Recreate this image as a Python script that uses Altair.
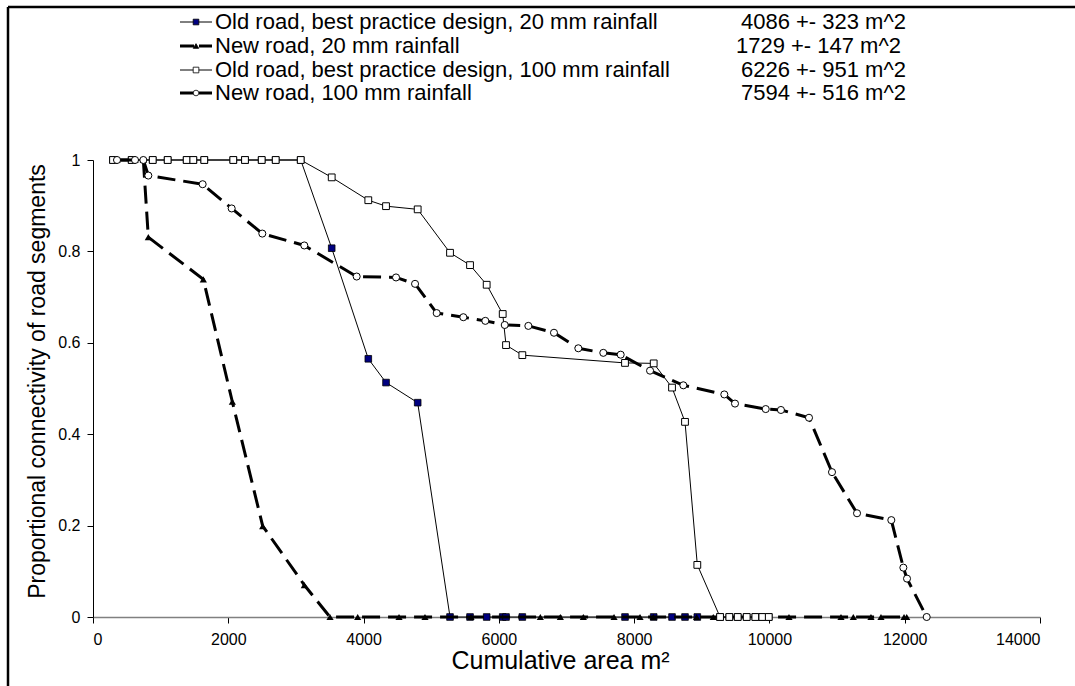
import altair as alt
import pandas as pd

# ---- data ----
old_x = [296, 572, 883, 1104, 1385, 1483, 1645, 2074, 2247, 2494, 2701, 3071,
         3529, 4070, 4332, 4800, 5278, 5574, 5820, 6057, 6106, 6347, 7865, 8289,
         8560, 8752, 8934, 9270, 9407, 9531, 9664, 9792, 9895, 9990]
old20_y = [1, 1, 1, 1, 1, 1, 1, 1, 1, 1, 1, 1,
           0.807, 0.565, 0.513, 0.469, 0, 0, 0, 0, 0, 0, 0, 0,
           0, 0, 0, 0, 0, 0, 0, 0, 0, 0]
old100_y = [1, 1, 1, 1, 1, 1, 1, 1, 1, 1, 1, 1,
            0.962, 0.912, 0.899, 0.892, 0.797, 0.770, 0.727, 0.663, 0.595, 0.573, 0.556, 0.555,
            0.502, 0.427, 0.114, 0, 0, 0, 0, 0, 0, 0]
new20_x = [355, 621, 744, 818, 1631, 2060, 2509, 3124, 3504, 3913, 4524, 4908, 5588,
           6613, 6909, 7249, 7703, 8087, 8284, 8924, 9170, 10289, 11058, 11240, 11501,
           11649, 11990, 12030]
new20_y = [1, 1, 1, 0.831, 0.739, 0.471, 0.199, 0.070, 0, 0, 0, 0, 0,
           0, 0, 0, 0, 0, 0, 0, 0, 0, 0, 0, 0,
           0, 0, 0]
new100_x = [355, 621, 744, 818, 1621, 2050, 2503, 3124, 3898, 4480, 4761, 5081, 5475,
            5800, 6087, 6436, 6815, 7175, 7544, 7801, 8235, 8727, 9333, 9491, 9945,
            10170, 10585, 10925, 11295, 11802, 11980, 12034, 12325]
new100_y = [1, 1, 1, 0.966, 0.947, 0.894, 0.839, 0.813, 0.745, 0.743, 0.729, 0.665, 0.656,
            0.648, 0.639, 0.637, 0.622, 0.588, 0.578, 0.574, 0.539, 0.507, 0.487, 0.467, 0.455,
            0.453, 0.436, 0.317, 0.227, 0.212, 0.108, 0.084, 0]

legend_labels = ["Old road, best practice design, 20 mm rainfall",
                 "New road, 20 mm rainfall",
                 "Old road, best practice design, 100 mm rainfall",
                 "New road, 100 mm rainfall"]
legend_values = ["4086 +- 323 m^2", "1729 +- 147 m^2", "6226 +- 951 m^2", "7594 +- 516 m^2"]

x_ticks = [0, 2000, 4000, 6000, 8000, 10000, 12000, 14000]
y_ticks = [0, 0.2, 0.4, 0.6, 0.8, 1]
x_title = "Cumulative area m\u00b2"
y_title = "Proportional connectivity of road segments"

FONT = "Liberation Sans"
W, H = 947, 457
PL, PT = 93, 160


def frame(x, y):
    return pd.DataFrame({"area": x, "conn": y})


X = alt.X("area:Q", scale=alt.Scale(domain=[0, 14000], nice=False, zero=False),
          axis=alt.Axis(values=x_ticks, format="d", grid=False, domainColor="#808080",
                        domainWidth=1.5, tickColor="black", tickSize=6, labelFont=FONT,
                        labelFontSize=16, labelColor="black", labelPadding=8,
                        title=x_title, titleFont=FONT, titleFontSize=25,
                        titleFontWeight="normal", titleColor="black",
                        titleX=467, titleY=43, titleBaseline="middle", titleAlign="center"))
Y = alt.Y("conn:Q", scale=alt.Scale(domain=[0, 1], nice=False),
          axis=alt.Axis(values=y_ticks, format="~g", grid=False, domainColor="black",
                        tickColor="black", tickSize=6, labelFont=FONT, labelFontSize=16,
                        labelColor="black", labelPadding=7,
                        title=y_title, titleFont=FONT, titleFontSize=23,
                        titleFontWeight="normal", titleColor="black",
                        titleX=-56, titleY=221, titleAngle=-90,
                        titleBaseline="middle", titleAlign="center"))

d1 = frame(old_x, old20_y)
d2 = frame(new20_x, new20_y)
d3 = frame(old_x, old100_y)
d4 = frame(new100_x, new100_y)

DASH = [18, 8]

layers = []
# series 1
layers.append(alt.Chart(d1).mark_line(color="black", strokeWidth=1).encode(x=X, y=Y))
layers.append(alt.Chart(d1).mark_point(shape="square", filled=True, fill="#000080",
                                       stroke="black", strokeWidth=0.8, size=44,
                                       opacity=1).encode(x=X, y=Y))
# series 2
layers.append(alt.Chart(d2).mark_line(color="black", strokeWidth=3, strokeDash=DASH).encode(x=X, y=Y))
layers.append(alt.Chart(d2).mark_point(shape="triangle-up", filled=True, fill="black",
                                       size=52, opacity=1).encode(x=X, y=Y))
# series 3
layers.append(alt.Chart(d3).mark_line(color="black", strokeWidth=1).encode(x=X, y=Y))
layers.append(alt.Chart(d3).mark_point(shape="square", filled=True, fill="white",
                                       stroke="black", strokeWidth=1, size=46,
                                       opacity=1).encode(x=X, y=Y))
# series 4
layers.append(alt.Chart(d4).mark_line(color="black", strokeWidth=3, strokeDash=DASH).encode(x=X, y=Y))
layers.append(alt.Chart(d4).mark_point(shape="circle", filled=True, fill="white",
                                       stroke="black", strokeWidth=1, size=50,
                                       opacity=1).encode(x=X, y=Y))

one = pd.DataFrame({"k": [0]})

# outer frame (top and left edges visible)
layers.append(alt.Chart(one).mark_rule(color="black", strokeWidth=2.5).encode(
    x=alt.value(8 - PL), x2=alt.value(1100 - PL), y=alt.value(7 - PT)))
layers.append(alt.Chart(one).mark_rule(color="black", strokeWidth=2.5).encode(
    x=alt.value(8 - PL), y=alt.value(7 - PT), y2=alt.value(700 - PT)))

# custom legend
row_y = [22, 46, 70, 93]
num_right = [906, 901, 906, 906]
leg_styles = [
    dict(width=1, dash=None, shape="square", fill="#000080", stroke="black", size=32),
    dict(width=3, dash=[14, 5], shape="triangle-up", fill="black", stroke="black", size=30),
    dict(width=1, dash=None, shape="square", fill="white", stroke="black", size=32),
    dict(width=3, dash=[14, 5], shape="circle", fill="white", stroke="black", size=32),
]
for i in range(4):
    st = leg_styles[i]
    yy = row_y[i] - PT
    rule_kw = dict(color="black", strokeWidth=st["width"])
    if st["dash"]:
        rule_kw["strokeDash"] = st["dash"]
    layers.append(alt.Chart(one).mark_rule(**rule_kw).encode(
        x=alt.value(180 - PL), x2=alt.value(212 - PL), y=alt.value(yy)))
    layers.append(alt.Chart(one).mark_point(shape=st["shape"], filled=True, fill=st["fill"],
                                            stroke=st["stroke"], strokeWidth=0.8,
                                            size=st["size"], opacity=1).encode(
        x=alt.value(196 - PL), y=alt.value(yy)))
    layers.append(alt.Chart(one).mark_text(align="left", baseline="middle", font=FONT,
                                           fontSize=22, color="black").encode(
        x=alt.value(215 - PL), y=alt.value(yy), text=alt.value(legend_labels[i])))
    layers.append(alt.Chart(one).mark_text(align="right", baseline="middle", font=FONT,
                                           fontSize=22, color="black").encode(
        x=alt.value(num_right[i] - PL), y=alt.value(yy), text=alt.value(legend_values[i])))

chart = alt.layer(*layers).properties(
    width=W, height=H,
    autosize=alt.AutoSizeParams(type="none"),
    padding={"left": PL, "top": PT, "right": 1075 - PL - W, "bottom": 686 - PT - H},
    background="white",
).configure_view(stroke="transparent")

chart.save("out.html", embed_options={"renderer": "svg", "actions": False})
